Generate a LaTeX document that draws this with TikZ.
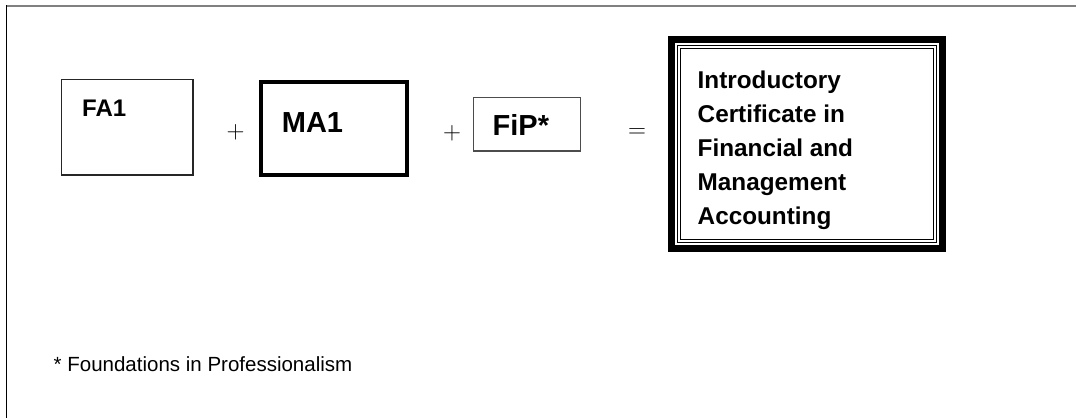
\documentclass[tikz,border=0pt]{standalone}
\usepackage{fontspec}
\setmainfont{Liberation Sans}
\usepackage{tikz}
\usetikzlibrary{positioning,calc}

\tikzset{
  modbox/.style={draw, outer sep=0pt, inner sep=0pt},
  boxlabel/.style={inner sep=0pt, anchor=base west, font=\bfseries\fontsize{#1}{#1}\selectfont},
  opsign/.style={inner sep=0pt, font=\fontsize{30}{30}\selectfont}
}

\begin{document}
\begin{tikzpicture}[x=1pt, y=-1pt]
  \useasboundingbox (0,0) rectangle (1076,418);
  % page frame, top and left only
  \draw[line width=1.7pt, gray] (6,5.8) -- (1076,5.8);
  \draw[line width=1.5pt, black] (6.6,5) -- (6.6,418);

  % the three modules
  \node[modbox, line width=1.7pt, black!85, minimum width=131.5, minimum height=95.5]
    (fa) at (127.25,127.25) {};
  \node[boxlabel=24] (falabel) at ([xshift=20.5, yshift=-37.2]fa.north west) {FA1};

  \node[modbox, line width=4.5pt, minimum width=145.6, minimum height=92.6]
    (ma) at (334,128.5) {};
  \node[boxlabel=29] (malabel) at ([xshift=20.5, yshift=-50.4]ma.north west) {MA1};

  \node[modbox, line width=1.2pt, gray!60!black, minimum width=107, minimum height=53.5]
    (fip) at (527,124.25) {};
  \node[boxlabel=29] (fiplabel) at ([xshift=19, yshift=-37.5]fip.north west) {FiP*};

  \node[opsign] (plusa) at (235.5,132.6) {$+$};
  \node[opsign] (plusb) at (452,133) {$+$};
  \node[opsign] (equals) at (637,133) {$=$};

  % the award, thick-thin-thin border
  \node[modbox, line width=7pt, minimum width=271, minimum height=209]
    (cert) at (807,144) {};
  \node[modbox, line width=1pt, minimum width=258.8, minimum height=196.8]
    (certmid) at (cert.center) {};
  \node[modbox, line width=1pt, minimum width=253.4, minimum height=191.4]
    (certin) at (cert.center) {};
  \node[inner sep=0pt, anchor=north west, align=left,
        font=\bfseries\fontsize{24.3}{34}\selectfont]
    (certlabel) at (697.5,70.6)
    {Introductory\\Certificate in\\Financial and\\Management\\Accounting};

  \node[inner sep=0pt, anchor=base west, font=\fontsize{20.5}{20.5}\selectfont]
    (footnote) at (53.5,371) {* Foundations in Professionalism};
\end{tikzpicture}
\end{document}
